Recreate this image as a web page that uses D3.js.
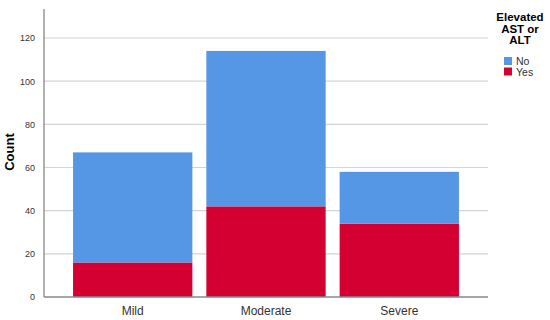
<!DOCTYPE html>
<head>
<meta charset="utf-8">
<script src="https://cdn.jsdelivr.net/npm/d3@7"></script>
<style>
  body { margin: 0; background: #fff; }
  text { font-family: Arial, "Liberation Sans", sans-serif; }
</style>
</head>
<body>
<svg width="550" height="320"></svg>
<script>
var categories = ["Mild", "Moderate", "Severe"]
var yesValues = [16, 42, 34]
var noValues = [51, 72, 24]
var seriesNames = ["No", "Yes"]
var seriesColors = ["#5596e5", "#d50032"]
var yTicks = [0, 20, 40, 60, 80, 100, 120]

var svg = d3.select("svg")
var left = 44, right = 488, bottom = 297, topY = 9

var x = d3.scaleBand().domain(categories).range([left, right])
  .paddingInner(0.105).paddingOuter(0.218)
var y = d3.scaleLinear().domain([0, 120]).range([bottom, 38])

// grid
svg.append("g").selectAll("line").data(yTicks.slice(1)).enter().append("line")
  .attr("x1", left).attr("x2", right)
  .attr("y1", function (d) { return y(d) }).attr("y2", function (d) { return y(d) })
  .attr("stroke", "#d4d4d4").attr("stroke-width", 1.2)

var rows = categories.map(function (c, i) { return {cat: c, Yes: yesValues[i], No: noValues[i]} })
var stack = d3.stack().keys(["Yes", "No"])(rows)

svg.append("g").selectAll("g").data(stack).enter().append("g")
  .attr("fill", function (d) { return seriesColors[seriesNames.indexOf(d.key)] })
  .selectAll("rect").data(function (d) { return d }).enter().append("rect")
  .attr("x", function (d) { return x(d.data.cat) })
  .attr("width", x.bandwidth())
  .attr("y", function (d) { return y(d[1]) })
  .attr("height", function (d) { return y(d[0]) - y(d[1]) })

// axes
var yAxis = svg.append("g").attr("transform", "translate(" + left + ",0)")
  .call(d3.axisLeft(y).tickValues(yTicks).tickSize(0).tickPadding(9))
yAxis.select(".domain").remove()
yAxis.selectAll("text").attr("font-size", 9).attr("fill", "#333")
svg.append("line").attr("x1", left).attr("x2", left).attr("y1", topY).attr("y2", bottom)
  .attr("stroke", "#888").attr("stroke-width", 1.3)

var xAxis = svg.append("g").attr("transform", "translate(0," + bottom + ")")
  .call(d3.axisBottom(x).tickSize(0).tickPadding(9))
xAxis.select(".domain").remove()
xAxis.selectAll("text").attr("font-size", 12).attr("fill", "#333")
svg.append("line").attr("x1", left).attr("x2", right).attr("y1", bottom).attr("y2", bottom)
  .attr("stroke", "#888").attr("stroke-width", 1.3)

svg.append("text").attr("transform", "translate(14,152) rotate(-90)")
  .attr("text-anchor", "middle").attr("font-size", 13).attr("font-weight", "bold").text("Count")

// legend
var lg = svg.append("g")
lg.selectAll("text.t").data(["Elevated", "AST or", "ALT"]).enter().append("text")
  .attr("x", 520).attr("y", function (d, i) { return 21 + i * 11.5 })
  .attr("text-anchor", "middle").attr("font-size", 11.5).attr("font-weight", "bold").text(function (d) { return d })
var items = lg.selectAll("g").data(seriesNames).enter().append("g")
  .attr("transform", function (d, i) { return "translate(504," + (57 + i * 10.5) + ")" })
items.append("rect").attr("width", 8).attr("height", 8)
  .attr("fill", function (d, i) { return seriesColors[i] })
items.append("text").attr("x", 12).attr("y", 8).attr("font-size", 10.5).attr("fill", "#333")
  .text(function (d) { return d })
</script>
</body>
